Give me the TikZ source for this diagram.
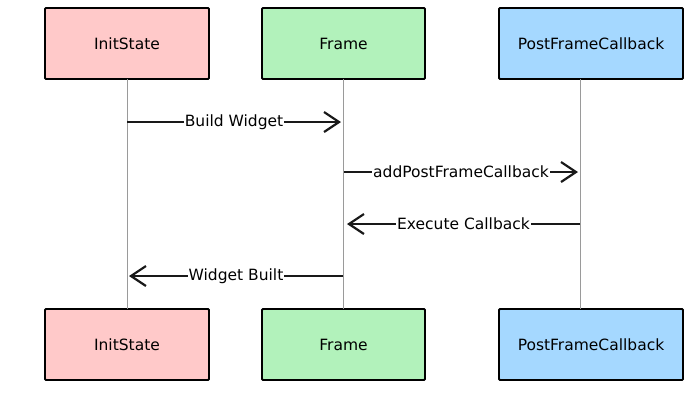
\documentclass[tikz,border=0pt]{standalone}
\usepackage{fontspec}
\setmainfont{DejaVu Sans}
\usetikzlibrary{arrows.meta}
\definecolor{cpink}{HTML}{FFC9C9}
\definecolor{cgreen}{HTML}{B2F2BB}
\definecolor{cblue}{HTML}{A5D8FF}
\definecolor{clife}{HTML}{9A9A9A}
\tikzset{
  actor/.style={draw=black, line width=1.8pt, rounded corners=1pt, font=\fontsize{15.5}{18}\selectfont},
  life/.style={draw=clife, line width=0.9pt},
  msg/.style={draw=black!90, line width=2.4pt, -{Straight Barb[length=15pt,width=20pt,line width=2.2pt]}},
  msglabel/.style={fill=white, inner sep=1pt, font=\fontsize{15.5}{18}\selectfont}
}
\begin{document}
\begin{tikzpicture}[x=1pt,y=-1pt]
\useasboundingbox (0,0) rectangle (700,392);
% top actors
\node[actor, fill=cpink, minimum width=164pt, minimum height=71pt] (initT) at (127,43.5) {InitState};
\node[actor, fill=cgreen, minimum width=163pt, minimum height=71pt] (frameT) at (343.5,43.5) {Frame};
\node[actor, fill=cblue, minimum width=184pt, minimum height=71pt] (pfcT) at (591,43.5) {PostFrameCallback};
% bottom actors
\node[actor, fill=cpink, minimum width=164pt, minimum height=71pt] (initB) at (127,344.5) {InitState};
\node[actor, fill=cgreen, minimum width=163pt, minimum height=71pt] (frameB) at (343.5,344.5) {Frame};
\node[actor, fill=cblue, minimum width=184pt, minimum height=71pt] (pfcB) at (591,344.5) {PostFrameCallback};
% lifelines
\coordinate (l1t) at (127,79); \coordinate (l1b) at (127,309);
\coordinate (l2t) at (343,79); \coordinate (l2b) at (343,309);
\coordinate (l3t) at (580,79); \coordinate (l3b) at (580,309);
\draw[life] (l1t) -- (l1b);
\draw[life] (l2t) -- (l2b);
\draw[life] (l3t) -- (l3b);
% message anchors
\coordinate (m1a) at (127,122); \coordinate (m1b) at (341,122);
\coordinate (m2a) at (344,172); \coordinate (m2b) at (578,172);
\coordinate (m3a) at (580,224); \coordinate (m3b) at (347,224);
\coordinate (m4a) at (343,276); \coordinate (m4b) at (129,276);
\draw[msg] (m1a) -- node[msglabel] (t1) {Build Widget} (m1b);
\draw[msg] (m2a) -- node[msglabel] (t2) {addPostFrameCallback} (m2b);
\draw[msg] (m3a) -- node[msglabel] (t3) {Execute Callback} (m3b);
\draw[msg] (m4a) -- node[msglabel] (t4) {Widget Built} (m4b);
\end{tikzpicture}
\end{document}
